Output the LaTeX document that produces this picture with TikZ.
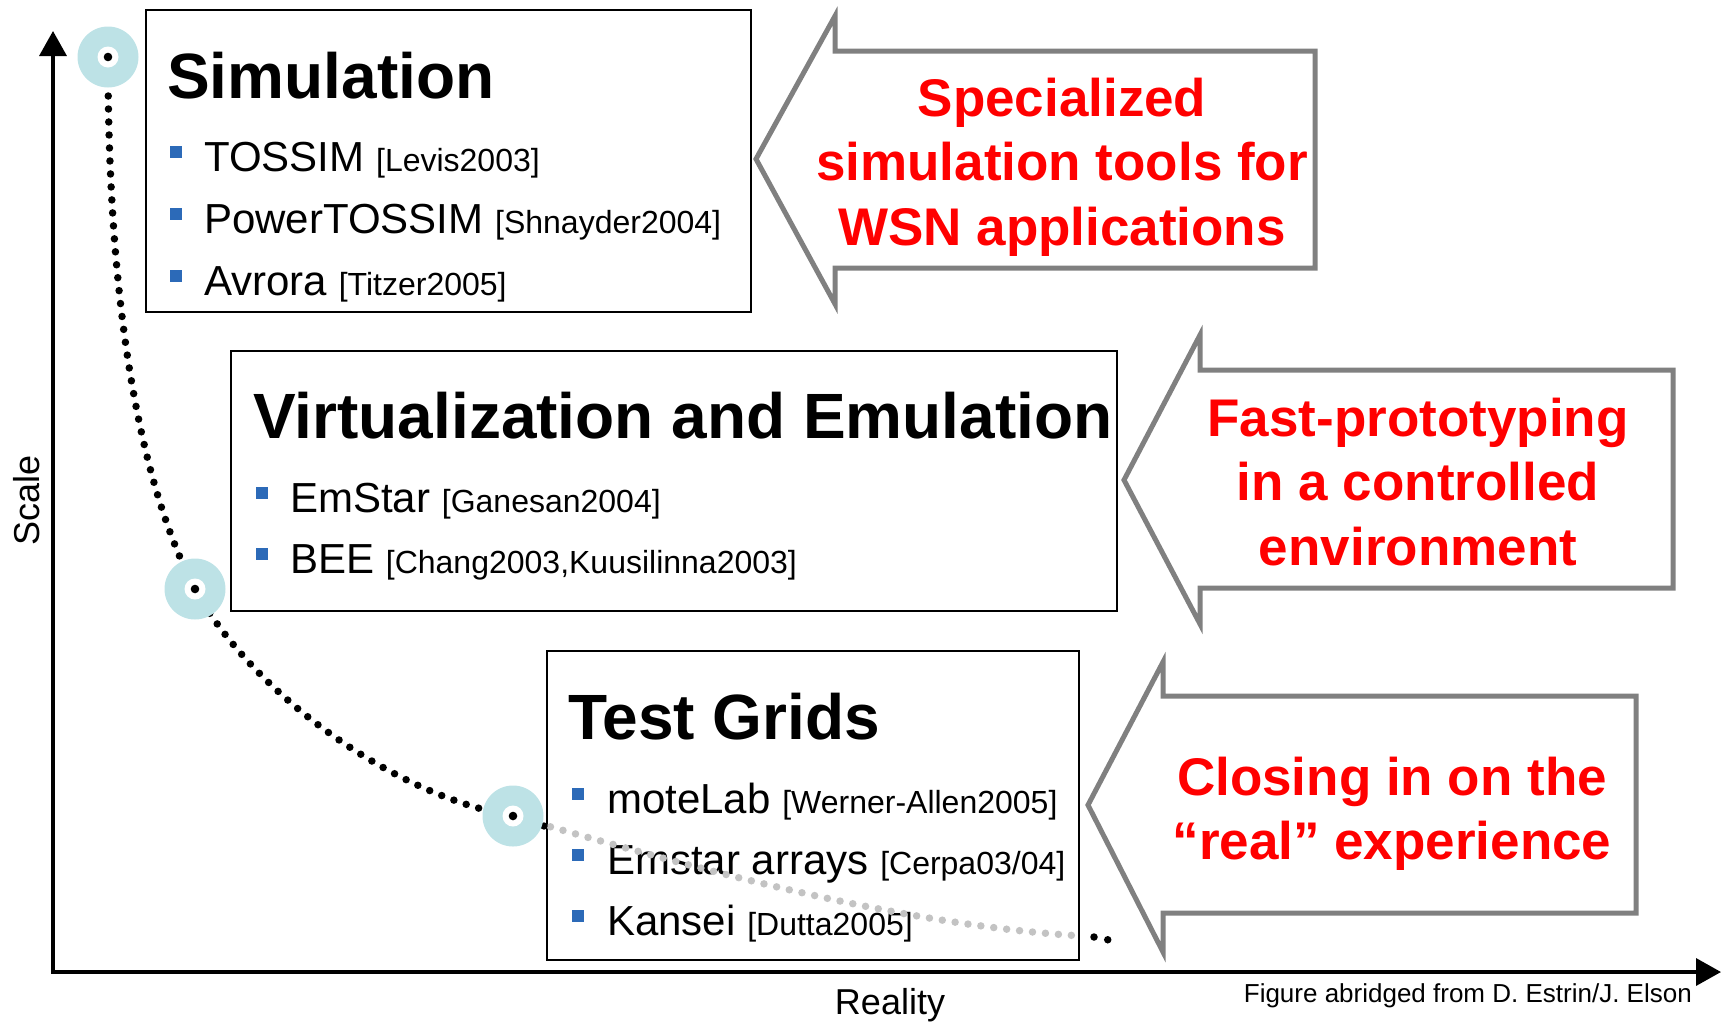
\documentclass[tikz,border=0pt]{standalone}
\usepackage{fontspec}
\setmainfont{Liberation Sans}
\usetikzlibrary{arrows.meta}
\definecolor{ringteal}{RGB}{189,226,230}
\definecolor{bulletblue}{RGB}{44,106,184}
\definecolor{arrowgray}{RGB}{128,128,128}
\definecolor{dotgray}{RGB}{195,195,195}
\newcommand\refsz{\fontsize{32}{38}\selectfont}
\newcommand\wsnitem[5]{%
  \node[sq] (#1b) at (#2,#4-19) {};
  \node[itemtext] (#1) at (#3,#4) {#5};
}
\begin{document}
\begin{tikzpicture}[x=1pt,y=-1pt,
  frame/.style={draw=black,line width=2pt,inner sep=0pt},
  callout/.style={draw=arrowgray,line width=5pt,line join=miter,fill=white},
  titletext/.style={anchor=base west,inner sep=0pt,font=\fontsize{64}{76}\selectfont\bfseries},
  itemtext/.style={anchor=base west,inner sep=0pt,font=\fontsize{42}{50}\selectfont},
  sq/.style={fill=bulletblue,minimum size=12pt,inner sep=0pt,draw=none},
  redtext/.style={text=red,font=\fontsize{53}{64.5}\selectfont\bfseries,align=center,inner sep=0pt},
  axis/.style={line width=3.5pt,{Triangle[length=25pt,width=27pt]}-{Triangle[length=25pt,width=27pt]}},
  blackdots/.style={line width=7.5pt,line cap=round,dash pattern=on 0pt off 13pt,black},
  greydots/.style={line width=7.5pt,line cap=round,dash pattern=on 0pt off 13pt,dotgray},
  ring/.style={circle,fill=ringteal,minimum size=61pt,inner sep=0pt},
  axislabel/.style={font=\fontsize{36}{43}\selectfont,inner sep=0pt}
]
\useasboundingbox (0,0) rectangle (1723,1023);

% axes
\coordinate (ytip) at (53,31);
\coordinate (orig) at (53,972);
\coordinate (xtip) at (1721,972);
\draw[axis] (ytip) -- (orig) -- (xtip);
\node[axislabel,rotate=90] (scalelbl) at (27,500) {Scale};
\node[axislabel,anchor=base] (reallbl) at (890,1014) {Reality};
\node[anchor=base east,inner sep=0pt,font=\fontsize{26}{31}\selectfont] (credit) at (1692,1002) {Figure abridged from D. Estrin/J. Elson};

% boxes
\node[frame,minimum width=605pt,minimum height=302pt] (box1) at (448.5,161) {};
\node[frame,minimum width=886pt,minimum height=260pt] (box2) at (674,481) {};
\node[frame,minimum width=532pt,minimum height=309pt] (box3) at (813,805.5) {};

\node[titletext] (t1) at (167,98) {Simulation};
\wsnitem{i11}{176}{204}{171}{TOSSIM {\refsz [Levis2003]}}
\wsnitem{i12}{176}{204}{233}{PowerTOSSIM {\refsz [Shnayder2004]}}
\wsnitem{i13}{176}{204}{295}{Avrora {\refsz [Titzer2005]}}

\node[titletext] (t2) at (253,438) {Virtualization and Emulation};
\wsnitem{i21}{262}{290}{512}{EmStar {\refsz [Ganesan2004]}}
\wsnitem{i22}{262}{290}{573}{BEE {\refsz [Chang2003,Kuusilinna2003]}}

\node[titletext] (t3) at (568,739) {Test Grids};
\wsnitem{i31}{578}{607}{813}{moteLab {\refsz [Werner-Allen2005]}}
\wsnitem{i32}{578}{607}{874}{Emstar arrays {\refsz [Cerpa03/04]}}
\wsnitem{i33}{578}{607}{935}{Kansei {\refsz [Dutta2005]}}

% callout arrows
\draw[callout] (756,159) -- (835,16) -- (835,51) -- (1315,51) -- (1315,268) -- (835,268) -- (835,304) -- cycle;
\node[redtext] (r1) at (1062,167) {Specialized\\simulation tools for\\WSN applications};
\draw[callout] (1124,480) -- (1200,335) -- (1200,370) -- (1673,370) -- (1673,588) -- (1200,588) -- (1200,624) -- cycle;
\node[redtext] (r2) at (1418,482) {Fast-prototyping\\in a controlled\\environment};
\draw[callout] (1088,805) -- (1163,662) -- (1163,696) -- (1636,696) -- (1636,913) -- (1163,913) -- (1163,952) -- cycle;
\node[redtext] (r3) at (1392,814) {Closing in on the\\“real” experience};

% curve
\coordinate (p1) at (108,57);
\coordinate (p2) at (195,589);
\coordinate (p3) at (513,816);
\coordinate (g) at (1082,936);
\coordinate (e1) at (1094,937);
\coordinate (e2) at (1109,940);
\coordinate (d1) at (544,826);
\draw[greydots] (p3) .. controls (700,870) and (900,925) .. (g);
\draw[blackdots] (p1) .. controls (108,300) and (138,480) .. (p2) .. controls (250,690) and (390,795) .. (p3);
\draw[blackdots,dash pattern=on 0pt off 14pt] (e1) -- (e2);
\fill[black] (d1) circle (3.7);

\foreach \c/\p in {c1/p1,c2/p2,c3/p3}{
  \node[ring] (\c) at (\p) {};
  \fill[white] (\c) circle (10.5);
  \fill[black] (\c) circle (4.3);
}
\end{tikzpicture}
\end{document}
